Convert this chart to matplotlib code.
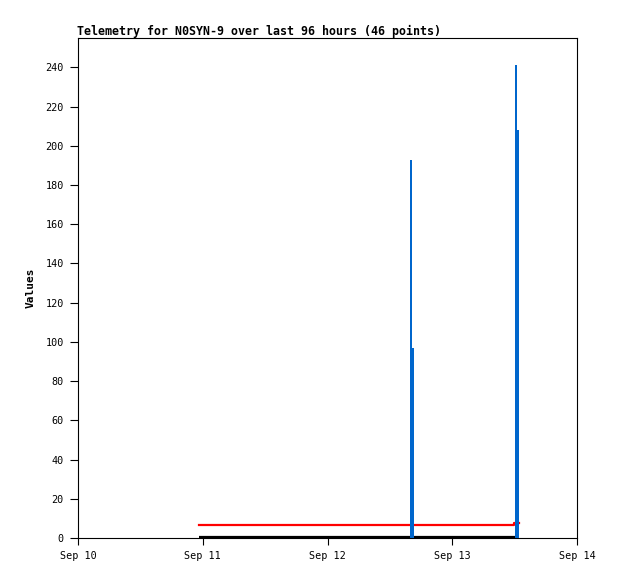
import matplotlib
matplotlib.use("Agg")
import matplotlib.pyplot as plt
import matplotlib.dates as mdates
from datetime import datetime

# ---- data ----
title = "Telemetry for N0SYN-9 over last 96 hours (46 points)"
ylabel = "Values"

spike_times = [datetime(2024, 9, 12, 15, 52), datetime(2024, 9, 12, 16, 4),
               datetime(2024, 9, 13, 12, 4), datetime(2024, 9, 13, 12, 4)]
spike_values = [193, 97, 241, 208]
spike_widths_days = [0.016, 0.024, 0.016, 0.032]

red_times = [datetime(2024, 9, 10, 23, 17), datetime(2024, 9, 13, 11, 55),
             datetime(2024, 9, 13, 12, 50)]
red_values = [6.7, 7.5, 7.5]

black_times = [datetime(2024, 9, 10, 23, 17), datetime(2024, 9, 13, 12, 50)]
black_values = [0.4, 0.4]

xmin = datetime(2024, 9, 10)
xmax = datetime(2024, 9, 14)
yticks = list(range(0, 241, 20))

# ---- plot ----
plt.rcParams['font.family'] = ['DejaVu Sans Mono']
fig = plt.figure(figsize=(6.18, 5.79), dpi=100)
ax = fig.add_axes([78/618, 1-538/579, 499/618, 500/579])

ax.plot(black_times, black_values, color='black', lw=1.6, solid_capstyle='butt', zorder=2)
ax.step(red_times, red_values, where='post', color='#ff0000', lw=1.6, zorder=3)
ax.bar(spike_times, spike_values, width=spike_widths_days, align='edge',
       color='#0066cc', edgecolor='none', zorder=4)

ax.set_xlim(xmin, xmax)
ax.set_ylim(0, 255)
ax.set_yticks(yticks)
ax.xaxis.set_major_locator(mdates.DayLocator())
ax.xaxis.set_major_formatter(mdates.DateFormatter('%b %d'))

for s in ax.spines.values():
    s.set_linewidth(0.8)
    s.set_color('black')
ax.tick_params(axis='y', direction='out', length=5.8, width=0.8, labelsize=7.3, pad=4.5)
ax.tick_params(axis='x', direction='out', length=5.0, width=0.8, labelsize=7.3, pad=4.5)

ax.set_ylabel(ylabel, fontsize=8, fontweight='bold')
ax.yaxis.set_label_coords(-0.084, 0.5)
fig.text(77/618, 1-35/579, title, fontsize=8.4, fontweight='bold', ha='left', va='baseline')

fig.savefig("out.png", dpi=100)
